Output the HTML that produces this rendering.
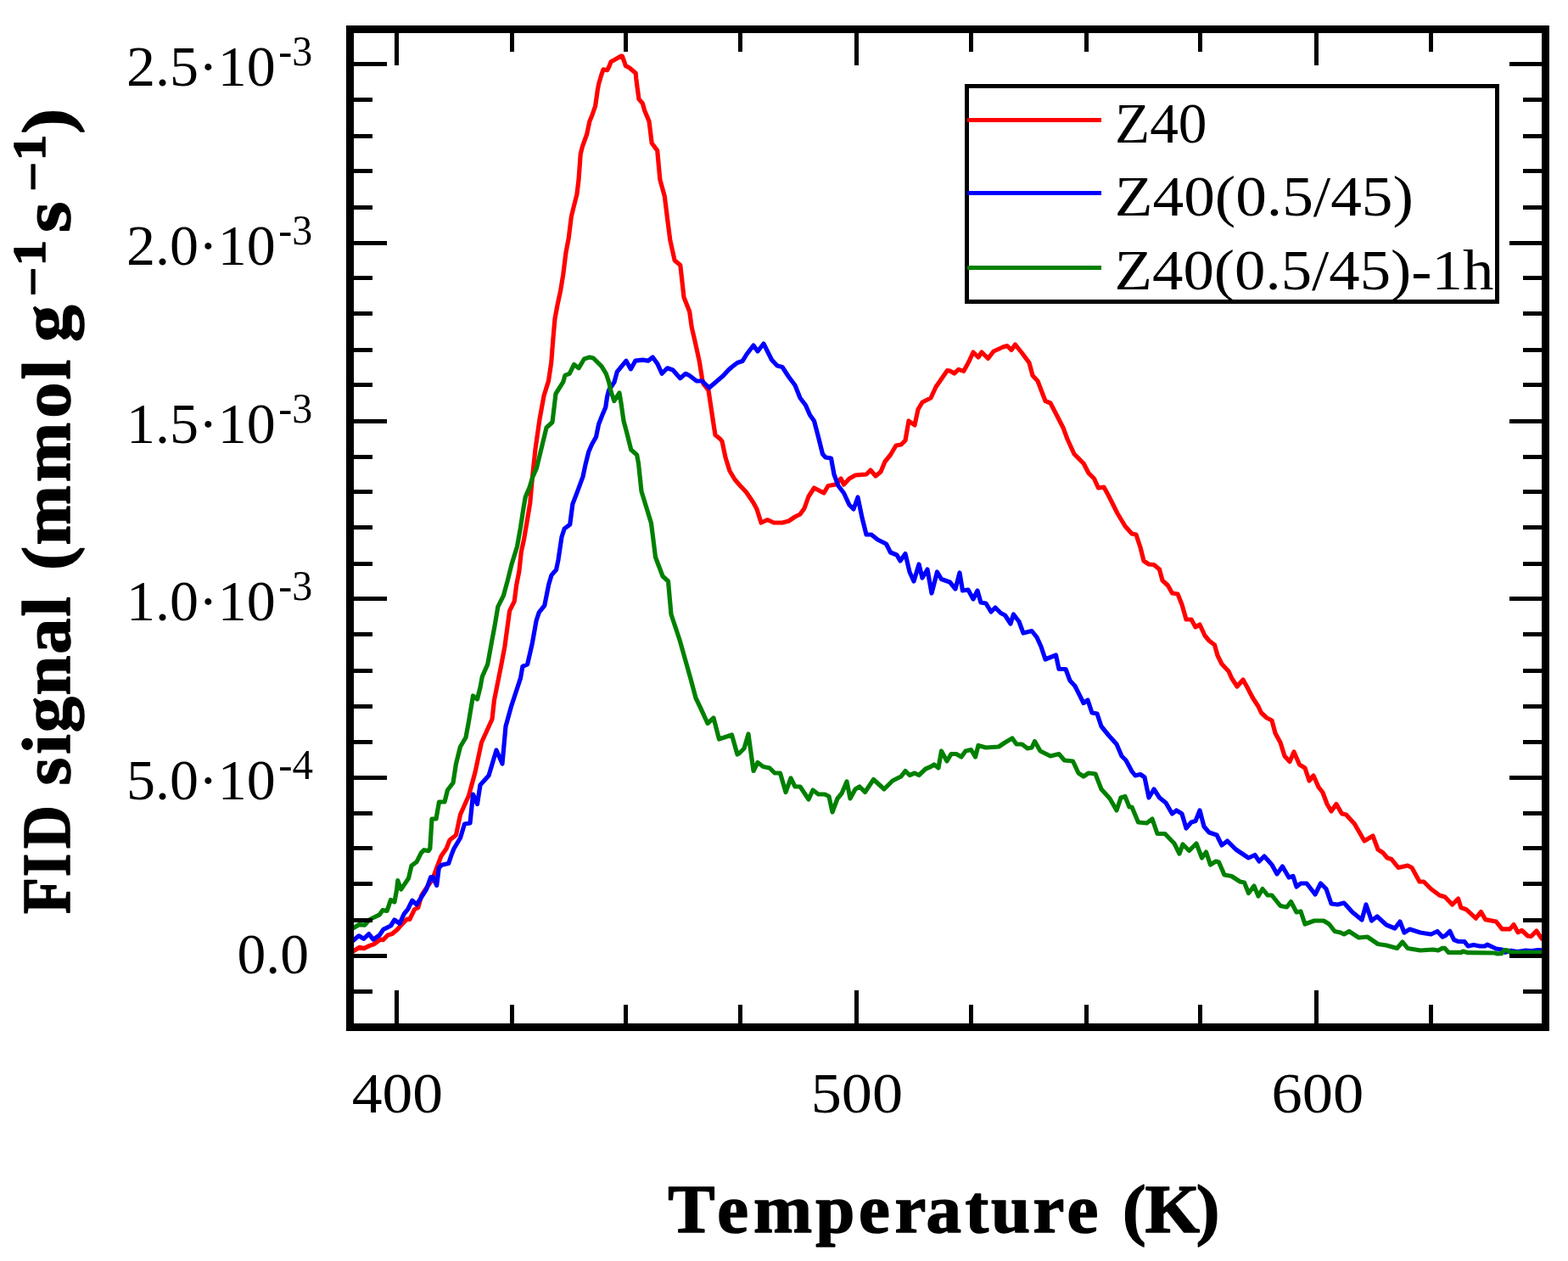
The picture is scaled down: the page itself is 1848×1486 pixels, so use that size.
<!DOCTYPE html><html><head><meta charset="utf-8"><title>FID signal vs Temperature</title><style>html,body{margin:0;padding:0;background:#fff;overflow:hidden}svg{display:block}</style></head><body>
<svg width="1848" height="1486" viewBox="0 0 1848 1486">
<rect x="0" y="0" width="1848" height="1486" fill="#fff"/>
<defs><clipPath id="c"><rect x="417" y="39" width="1400" height="1167"/></clipPath></defs>
<g clip-path="url(#c)" fill="none" stroke-width="5.2" stroke-linejoin="round" stroke-linecap="round">
<path stroke="#ff0000" d="M416.7,1120.7 L423.7,1116.3 L429,1117.6 L435.1,1114.6 L440.4,1112.8 L448.2,1107.1 L451.7,1107.6 L457,1101.9 L462.2,1100.6 L468.4,1095.3 L474.5,1088.3 L479.7,1083.1 L482.8,1083.5 L488.5,1071.7 L492.8,1069.5 L496.8,1055.1 L502.5,1046.4 L509.5,1036.7 L514.7,1022.7 L520,1008.7 L526.1,1000 L530,990 L537.5,984 L542.5,960 L552.5,937.5 L560,910 L567.5,875 L580,847.5 L582.5,825 L587.7,799.1 L590.9,782.9 L594.9,761.9 L598.2,737.7 L600.6,719.9 L606.2,708.6 L608.7,689.2 L611.9,673.1 L614.3,650.5 L617.5,635.9 L621.6,611.7 L624.8,592.3 L627.2,564.8 L631,529 L636,494 L641,466.5 L646.5,448.9 L649.7,427.4 L651.9,399.3 L654,375.6 L657.2,358.4 L660.5,343.3 L663.7,323.9 L666.9,298.1 L670.2,280.8 L673.4,255 L676.6,242 L679.9,229.1 L682,211.9 L684.2,181.7 L686.3,173.1 L691.7,158 L694.9,142.9 L698,135.5 L701.6,125 L703.2,114.2 L704.3,106.1 L705.6,99.1 L707.2,93.8 L708.6,88.9 L710.2,84.1 L711,81.9 L715.8,82.7 L718,78.1 L720.1,72.8 L723.4,70.9 L727.7,68.5 L732,66 L733.3,66 L735.8,72.8 L737.4,77.6 L741.7,79.8 L749.2,86.2 L749.8,92.7 L750.8,100.8 L751.9,108.8 L753,116.9 L757.3,121.8 L759.6,130 L765,142.9 L768.2,168.8 L774.7,177.4 L777.9,211.9 L783.3,231.3 L786.5,257.1 L789.8,283 L795.1,306.7 L801.8,312.5 L803.6,328.5 L806,350.3 L812.7,367.3 L815.2,385.5 L819.4,403.6 L824.2,425.5 L827.5,446 L829,452.5 L835,460 L838,480 L841,500 L843,512.5 L849,517.5 L851,520 L855,539 L860,555 L866,565 L872,572 L879.5,580 L888,592.5 L892,600 L897,616 L904.5,612.5 L912,616 L922,616 L929.5,614 L937,609 L943,606 L948,599 L953,585 L959.5,575 L971,581 L976,572.5 L984.5,571 L991,564 L994.5,571 L1001,564 L1008,560 L1021,559 L1026,554 L1032,561 L1038,556 L1043,544 L1049.5,536 L1056,525 L1062,524 L1067,519 L1071,496 L1078,501 L1082,482.5 L1087,474 L1097,469 L1103,456 L1116.5,436.5 L1119.5,437 L1124.6,440 L1129.7,435.4 L1135.7,437.4 L1142,426 L1147,415 L1153,421 L1157,415 L1164.5,422.5 L1171,414 L1182,409 L1187,407.5 L1192,412.5 L1196.5,406 L1204.5,416 L1213,427.5 L1217,442.5 L1223,449 L1232,472.5 L1238,475 L1244.5,487.5 L1253,504 L1258,517.5 L1266,535 L1277,546 L1283,557.5 L1289.5,564 L1294.5,575 L1301,574 L1307,585 L1317,605 L1326,620 L1334,629 L1339,630 L1344,645 L1348,661 L1354,665 L1360,665.5 L1366.5,671 L1370,684 L1376.5,690 L1381.5,699 L1388,700 L1393,712.5 L1398,730 L1404,730 L1409,739 L1414,736 L1420,749 L1425,755 L1431.5,760 L1435,772.5 L1440,782.5 L1448,791 L1451.5,799 L1458,809 L1465,801 L1470,810 L1476.5,822.5 L1483,832.5 L1486.5,840 L1493,846 L1499,849 L1503,864 L1509,875 L1514,891 L1520,897.5 L1525,886 L1531.5,901 L1538,905 L1543,920 L1548,914 L1554,927.5 L1559,934 L1564,947.5 L1569,956 L1575,947.5 L1581.5,959 L1586.5,960 L1596.5,971 L1608,991 L1618,985 L1624,1001 L1630,1005 L1635,1011 L1640,1012.5 L1648,1022.5 L1659,1020 L1664,1022.5 L1673,1039 L1678,1039 L1686.5,1047.5 L1696.5,1055 L1703,1057 L1711.6,1066 L1718.6,1059 L1721.8,1069.5 L1728,1071.7 L1739.4,1082.2 L1745.4,1074.5 L1750.7,1083.6 L1763.3,1086 L1770.3,1094.9 L1779.5,1094.9 L1784,1089.6 L1789,1098.7 L1793.6,1096.3 L1800.6,1103 L1804.8,1103.3 L1810.8,1097 L1817,1106"/>
<path stroke="#0000ff" d="M416.7,1108 L422.9,1102.8 L428.6,1106.3 L434.7,1100.6 L439.9,1107.1 L447.4,1101.9 L451.7,1095.3 L460.5,1091 L464.9,1084 L471,1088.3 L476.2,1077 L480.6,1071.7 L485.8,1061.2 L491.1,1066 L502.5,1048.1 L507.7,1033.7 L510.3,1033.7 L514.7,1043.3 L517.3,1022.7 L520.8,1019.2 L528.7,1017.5 L532.2,1007 L535,1000 L542.5,987.5 L547.5,971 L554,970 L557.5,936 L562.5,947.5 L566,925 L576,914 L585,884 L592,900 L596,856 L602.5,832.5 L613.5,799.1 L615.9,785.4 L621.6,782.9 L627.2,758.7 L632.1,731.2 L635.3,721.6 L641.8,713.5 L646.6,689.2 L649.9,677.9 L655.5,671.5 L657.9,660.2 L662,632.7 L665.2,623 L671.7,618.2 L674.9,593.9 L680.5,579.4 L687,561.6 L690,547.5 L693.75,532.5 L697.5,523.75 L702.5,515 L705.6,500 L710,488.75 L713.75,480 L715.6,467.5 L717.5,460 L724,450.2 L727.3,438.1 L738,425.2 L743.4,434.9 L748.8,425.2 L757.4,424.1 L763.9,425.2 L769.3,420.9 L774.7,428.4 L780.1,440.3 L786.5,433.8 L793,436 L801.6,445.7 L808.1,440.3 L812.5,442.5 L821,449 L827.5,449 L835.8,457 L844.2,449.7 L851.5,443.6 L858.8,435.8 L862.5,432.5 L869,427.5 L875,425.6 L880,417.5 L888,407 L893,414 L900,405 L905,415 L909.5,424 L916,431 L922,432.5 L929.5,444 L937,454 L943,469 L949.5,477.5 L954.5,489 L959.5,496 L964.5,515 L969.5,535 L973,539 L979.5,540 L983,559 L988,572.5 L994.5,581 L1001,595 L1006,600 L1011,586 L1016,610 L1021,630 L1027,630 L1034.5,636 L1044.5,641 L1049.5,651 L1057,654 L1061,661 L1067,652.5 L1072,674 L1077,685 L1083,665 L1087,681 L1093,671 L1098,699 L1104.5,674 L1109.5,682.5 L1119.5,686 L1126,694 L1131,675 L1134.5,696 L1141,695 L1147,706 L1152,696 L1156,710 L1162,711 L1168,721 L1173,716 L1179.5,722.5 L1184.5,725 L1191,735 L1194.5,724 L1201,732.5 L1206,746 L1216,743.5 L1222,751 L1227,762 L1232,777 L1244.5,772 L1248,788.5 L1256,788.5 L1261,802 L1267,808.5 L1277,828.5 L1282,825 L1287,840 L1293,841 L1298,856 L1307,867 L1316,877 L1322,891 L1327,896 L1334,909 L1338,914 L1344,912.5 L1349,916 L1354,940 L1360,930 L1366.5,940 L1374,946 L1381.5,959 L1386.5,955 L1393,959 L1398,976 L1404,969 L1409,967.5 L1414,955 L1419,974 L1425,981 L1434,984 L1440,996 L1446.5,991 L1456.5,1001 L1471.5,1011 L1479,1007.5 L1484,1015 L1490,1009 L1499,1019 L1505,1030 L1511.5,1021 L1519,1034 L1524,1032.5 L1528,1045 L1533,1041 L1540,1041 L1550,1054 L1556.5,1041 L1563,1047.5 L1569,1065 L1576.5,1066 L1584,1064 L1594,1075 L1605,1084 L1610,1066 L1616.5,1085 L1623,1080 L1634,1090 L1644,1094 L1650,1086 L1655,1099 L1661.5,1095 L1674,1099 L1686.5,1101 L1694,1097.5 L1700,1104 L1703.5,1102.6 L1708.8,1097.3 L1711.6,1103.3 L1713.7,1107.5 L1718.3,1109.3 L1726,1109.6 L1730.2,1115 L1736.6,1113.5 L1744.3,1115 L1750,1115 L1752.8,1113.2 L1763.3,1118 L1770.3,1119 L1773.9,1122.3 L1781,1120.2 L1788,1121.6 L1797,1120.2 L1805.5,1120.5 L1812.5,1119.5 L1817,1119.8"/>
<path stroke="#008000" d="M416.7,1093.6 L422.9,1089.7 L429.9,1090.1 L435.1,1084 L440.4,1081.3 L447.4,1077.8 L450.9,1072.6 L456.1,1073.5 L460.5,1060.4 L464.9,1063 L467.5,1049 L468.8,1037.6 L472.7,1048.1 L481.5,1035 L485,1020.1 L491.1,1015.7 L496.3,1005.2 L499.8,1001.7 L505.1,1002.6 L506.8,1000 L509,965 L514,965 L517.5,945 L524,945 L527.5,931 L534,922.5 L537.5,900 L542.5,880 L549,869 L552.5,850 L557.5,820 L562.5,824 L566,810 L568.3,797.5 L574.7,782.9 L578.8,760.3 L583.6,734.5 L586.8,715.1 L593.3,702.2 L598.2,684.4 L603,665 L609.5,644 L613.5,621.4 L616.7,600.4 L619.2,585.8 L624,574.5 L628,561.6 L632.5,551.5 L644,504 L651,497.5 L655,464 L663.7,450.2 L665.9,442.4 L671.2,440.3 L676.6,429.5 L682,433.8 L688.5,423 L694.9,420.9 L699.3,422 L709,431.7 L714.3,440.3 L717.6,450.2 L720,461 L723.75,472.5 L730,463 L732,475 L735,496 L738.75,510 L743.75,530 L750.6,536 L752.5,546 L756,579 L767.5,616.5 L772.5,656.5 L781,679 L787.5,685 L791,724 L801,754 L814,800 L820,822.5 L826,835 L834,852.5 L841,846 L847.5,871 L862.5,866 L869,889 L872,887 L877,882 L882,865 L888,908.5 L893,898.5 L899.5,903.5 L907,905 L913,911 L919.5,911 L926,933.5 L932,917 L937,927 L943,927 L953,942 L958,931 L964.5,936 L972,936 L977,938.5 L981,957 L987,941 L992,935 L998,921 L1002,941 L1008,930 L1013,927 L1019.5,933.5 L1029.5,918.5 L1042,930 L1052,920 L1062,915 L1067,908.5 L1072,913.5 L1078,911 L1083,913.5 L1091,906 L1097,903.5 L1101,901 L1106,905 L1109.5,885 L1116,897 L1121,888.5 L1127,888.5 L1133,892 L1138,885 L1144.5,883.5 L1149.5,892 L1153,878.5 L1162,881 L1177,880 L1184.5,875 L1193,870 L1198,877 L1204.5,877 L1211,882 L1216,881 L1219.5,873.5 L1226,885 L1238,891 L1248,888.5 L1254.5,896 L1264.5,897 L1271,911 L1277,915 L1283,911 L1291,912 L1298,930 L1308,941 L1316,955 L1321,940 L1326,938.5 L1331,951 L1334,951 L1341.5,969 L1351.5,970 L1358,965 L1364,982.5 L1373,982.5 L1384,994 L1390,1006 L1394,995 L1401.5,1002.5 L1410,994 L1416.5,1011 L1421.5,1004 L1426.5,1019 L1433,1015 L1436.5,1016 L1443,1031 L1451.5,1032.5 L1461.5,1039 L1466.5,1040 L1471.5,1052.5 L1478,1044 L1483,1056 L1488,1047.5 L1494,1055 L1499,1055 L1509,1067.5 L1516.5,1069 L1521.5,1062.5 L1528,1075 L1533,1074 L1538,1089 L1549,1085 L1560,1085 L1566.5,1089 L1573,1097.5 L1580,1099 L1584,1101 L1590,1097.5 L1601.5,1105 L1611.5,1104 L1624,1112.5 L1634,1114 L1646.5,1117.5 L1653,1110 L1659,1117.5 L1674,1120 L1689,1119 L1695,1120 L1700,1117.4 L1702.8,1117.4 L1707,1122.3 L1722.5,1122.3 L1724,1121 L1730.2,1122.7 L1762,1123 L1764.7,1124 L1769.6,1123.7 L1773.2,1119.5 L1776.7,1119.8 L1779.5,1122.3 L1817,1122.3"/>
</g>
<path stroke="#000" stroke-width="5" fill="none" d="M417,1168.5h22 M1817,1168.5h-22 M417,1126.5h39 M1817,1126.5h-38 M417,1084.5h22 M1817,1084.5h-22 M417,1041.5h22 M1817,1041.5h-22 M417,999.5h22 M1817,999.5h-22 M417,958.5h22 M1817,958.5h-22 M417,916.5h39 M1817,916.5h-38 M417,874.5h22 M1817,874.5h-22 M417,832.5h22 M1817,832.5h-22 M417,790.5h22 M1817,790.5h-22 M417,747.5h22 M1817,747.5h-22 M417,705.5h39 M1817,705.5h-38 M417,664.5h22 M1817,664.5h-22 M417,621.5h22 M1817,621.5h-22 M417,579.5h22 M1817,579.5h-22 M417,538.5h22 M1817,538.5h-22 M417,496.5h39 M1817,496.5h-38 M417,453.5h22 M1817,453.5h-22 M417,412.5h22 M1817,412.5h-22 M417,369.5h22 M1817,369.5h-22 M417,327.5h22 M1817,327.5h-22 M417,286.5h39 M1817,286.5h-38 M417,244.5h22 M1817,244.5h-22 M417,201.5h22 M1817,201.5h-22 M417,160.5h22 M1817,160.5h-22 M417,117.5h22 M1817,117.5h-22 M417,75.5h39 M1817,75.5h-38 M467.5,1206v-39 M467.5,39v38 M603.5,1206v-22 M603.5,39v22 M737.5,1206v-22 M737.5,39v22 M872.5,1206v-22 M872.5,39v22 M1009.5,1206v-39 M1009.5,39v38 M1144.5,1206v-22 M1144.5,39v22 M1280.5,1206v-22 M1280.5,39v22 M1414.5,1206v-22 M1414.5,39v22 M1551.5,1206v-39 M1551.5,39v38 M1686.5,1206v-22 M1686.5,39v22"/>
<rect x="412.5" y="34.5" width="1409" height="1176" fill="none" stroke="#000" stroke-width="9"/>
<rect x="1139.5" y="101.5" width="625" height="254" fill="#fff" stroke="#000" stroke-width="5"/>
<path d="M1140,141.5H1298" stroke="#ff0000" stroke-width="5"/>
<path d="M1140,227.5H1298" stroke="#0000ff" stroke-width="5"/>
<path d="M1140,315.5H1298" stroke="#008000" stroke-width="5"/>
<g font-family="'Liberation Serif', 'Times New Roman', serif" fill="#000">
<text transform="translate(149,101) scale(1.0000,1)" font-size="68">2.5·10</text>
<text transform="translate(328.26,77.1) scale(0.9400,1)" font-size="51">-3</text>
<text transform="translate(149,312) scale(1.0000,1)" font-size="68">2.0·10</text>
<text transform="translate(328.26,288.1) scale(0.9400,1)" font-size="51">-3</text>
<text transform="translate(149,522) scale(1.0000,1)" font-size="68">1.5·10</text>
<text transform="translate(328.26,498.1) scale(0.9400,1)" font-size="51">-3</text>
<text transform="translate(149,731) scale(1.0000,1)" font-size="68">1.0·10</text>
<text transform="translate(328.26,707.1) scale(0.9400,1)" font-size="51">-3</text>
<text transform="translate(149,942) scale(1.0000,1)" font-size="68">5.0·10</text>
<text transform="translate(328.24,918.1) scale(0.9610,1)" font-size="51">-4</text>
<text transform="translate(279.41,1147) scale(0.9951,1)" font-size="68">0.0</text>
<text transform="translate(414.75,1311) scale(1.0525,1)" font-size="68">400</text>
<text transform="translate(955.65,1311) scale(1.0635,1)" font-size="68">500</text>
<text transform="translate(1498.4,1311) scale(1.0670,1)" font-size="68">600</text>
<text transform="translate(1314.03,168) scale(0.9904,1)" font-size="68">Z40</text>
<text transform="translate(1313.77,254) scale(1.0779,1)" font-size="68">Z40(0.5/45)</text>
<text transform="translate(1313.59,341) scale(1.0705,1)" font-size="68">Z40(0.5/45)-1h</text>
<text transform="translate(0,1451.8) scale(1.0245,1)" x="768.42 825.1 866.89 938.26 987.9 1029.25 1065.34 1110.26 1140.18 1188.35 1227.38 1247.38 1291.32 1317.29 1376.06" font-size="81" font-weight="bold" stroke="#000" stroke-width="1.5" stroke-linejoin="round">Temperature (K)</text>
<text transform="translate(82.3,1100) rotate(-90) scale(0.8685,1)" x="26.53 76.86 115.06" font-size="81" font-weight="bold" stroke="#000" stroke-width="1.5" stroke-linejoin="round">FID</text>
<text transform="translate(82.3,1100) rotate(-90) scale(1.0429,1)" x="167.33 202.51 226.98 269.01 315.79 358.23" font-size="81" font-weight="bold" stroke="#000" stroke-width="1.5" stroke-linejoin="round">signal</text>
<text transform="translate(82.3,1100) rotate(-90) scale(1.0441,1)" x="410.01 438.28 509.21 581.63 625.28" font-size="81" font-weight="bold" stroke="#000" stroke-width="1.5" stroke-linejoin="round">(mmol</text>
<text transform="translate(82.3,1100) rotate(-90) scale(1.0769,1)" x="647.33" font-size="81" font-weight="bold" stroke="#000" stroke-width="1.5" stroke-linejoin="round">g</text>
<text transform="translate(82.3,1100) rotate(-90) scale(1.1250,1)" x="667.26 699.37" y="-25.6 -29.2" font-size="54" font-weight="bold" stroke="#000" stroke-width="1.5" stroke-linejoin="round">−1</text>
<text transform="translate(82.3,1100) rotate(-90) scale(1.1536,1)" x="716.03" font-size="81" font-weight="bold" stroke="#000" stroke-width="1.5" stroke-linejoin="round">s</text>
<text transform="translate(82.3,1100) rotate(-90) scale(1.1354,1)" x="770.03 802.16" y="-25.6 -29.2" font-size="54" font-weight="bold" stroke="#000" stroke-width="1.5" stroke-linejoin="round">−1</text>
<text transform="translate(82.3,1100) rotate(-90) scale(1.1045,1)" x="853.01" font-size="81" font-weight="bold" stroke="#000" stroke-width="1.5" stroke-linejoin="round">)</text>
</g>
</svg></body></html>
